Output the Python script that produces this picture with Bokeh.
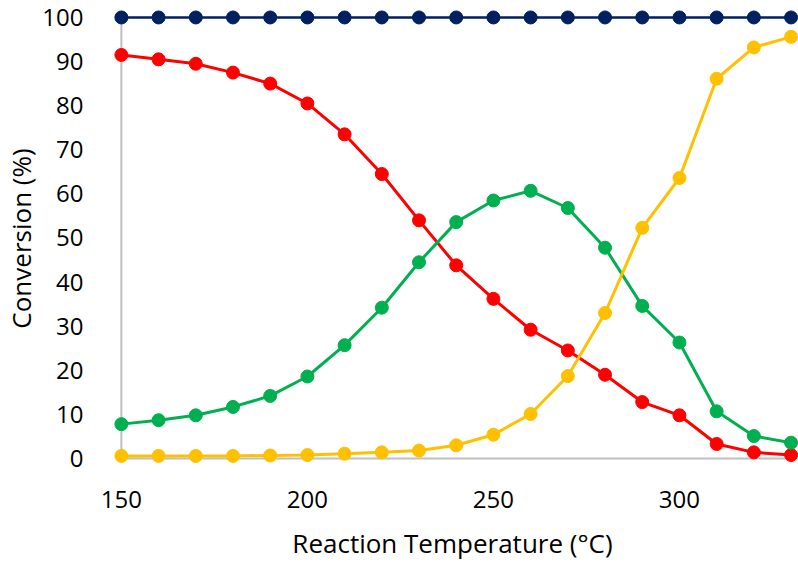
from bokeh.plotting import figure
from bokeh.models import FixedTicker, Range1d
from bokeh.embed import file_html
from bokeh.resources import INLINE

# Reaction temperature (°C)
temperature = [150, 160, 170, 180, 190, 200, 210, 220, 230, 240,
               250, 260, 270, 280, 290, 300, 310, 320, 330]

# Conversion / yield series (%)
total = [100] * 19
red_series = [91.5, 90.5, 89.5, 87.5, 85.0, 80.5, 73.5, 64.5, 54.0, 43.8,
              36.2, 29.2, 24.5, 19.0, 12.8, 9.8, 3.3, 1.4, 0.8]
green_series = [7.8, 8.7, 9.8, 11.7, 14.2, 18.6, 25.7, 34.2, 44.5, 53.6,
                58.5, 60.7, 56.8, 47.8, 34.6, 26.3, 10.7, 5.1, 3.6]
yellow_series = [0.6, 0.6, 0.6, 0.6, 0.7, 0.8, 1.1, 1.4, 1.8, 3.0,
                 5.4, 10.1, 18.7, 33.0, 52.3, 63.6, 86.1, 93.2, 95.6]

x_ticks = [150, 200, 250, 300]
y_ticks = list(range(0, 101, 10))

FONT = "Open Sans"

p = figure(width=798, height=563, output_backend="svg", toolbar_location=None,
           x_range=Range1d(146.0, 332.0), y_range=Range1d(-2.26, 102.03),
           min_border_left=100, min_border_right=0, min_border_top=8,
           min_border_bottom=93)
p.outline_line_color = None
p.xgrid.visible = False
p.ygrid.visible = False
p.background_fill_color = "white"
p.border_fill_color = "white"

# axis lines drawn across the value domain only
axis_grey = "#BFBFBF"
p.segment(x0=[x_ticks[0]], y0=[y_ticks[0]], x1=[x_ticks[0]], y1=[y_ticks[-1]],
          line_color=axis_grey, line_width=2)
p.segment(x0=[temperature[0]], y0=[0], x1=[temperature[-1]], y1=[0],
          line_color=axis_grey, line_width=2)

series = [
    (total, "#002060", 2.5),
    (red_series, "#FF0000", 3),
    (green_series, "#00B050", 3),
    (yellow_series, "#FFC000", 3),
]
for ys, color, lw in series:
    p.line(temperature, ys, line_color=color, line_width=lw)
    p.scatter(temperature, ys, size=13, fill_color=color, line_color=color)

for ax in (p.xaxis[0], p.yaxis[0]):
    ax.axis_line_color = None
    ax.major_tick_line_color = None
    ax.minor_tick_line_color = None
    ax.major_label_text_font = FONT
    ax.major_label_text_font_size = "24px"
    ax.major_label_text_color = "black"
    ax.axis_label_text_font = FONT
    ax.axis_label_text_font_size = "26px"
    ax.axis_label_text_font_style = "normal"
    ax.axis_label_text_color = "black"

p.xaxis.ticker = FixedTicker(ticks=x_ticks)
p.yaxis.ticker = FixedTicker(ticks=y_ticks)
p.xaxis.axis_label = "Reaction Temperature (°C)"
p.yaxis.axis_label = "Conversion (%)"
p.xaxis.major_label_standoff = 16
p.yaxis.major_label_standoff = 17
p.xaxis.axis_label_standoff = 14
p.yaxis.axis_label_standoff = 0

open("out.html", "w").write(file_html(p, INLINE))
